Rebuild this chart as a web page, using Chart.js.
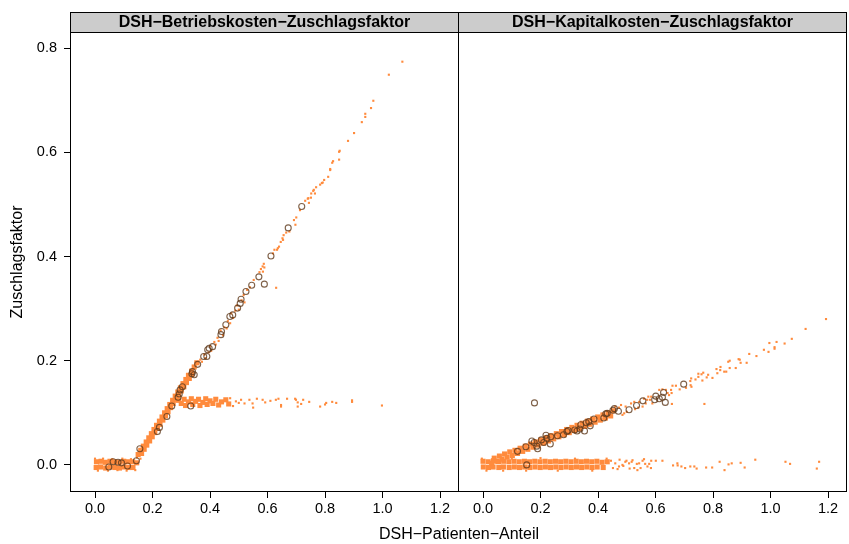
<!DOCTYPE html>
<html>
<head>
<meta charset="utf-8">
<script src="https://cdn.jsdelivr.net/npm/chart.js@4.4.1/dist/chart.umd.min.js"></script>
<style>
  body { margin: 0; background: #fff; width: 849px; height: 544px; position: relative; overflow: hidden; font-family: 'Liberation Sans', Arial, sans-serif; }
  #c1 { position: absolute; left: 0; top: 0; }
  #c2 { position: absolute; left: 458px; top: 0; }
  #xtitle { position: absolute; left: 0; top: 525px; width: 918px; text-align: center; font-size: 16px; color: #000; }
</style>
</head>
<body>
<canvas id="c1" width="459" height="544"></canvas>
<canvas id="c2" width="391" height="544"></canvas>
<div id="xtitle">DSH−Patienten−Anteil</div>
<script>
// Panel titles, ticks
const panelTitles = ['DSH−Betriebskosten−Zuschlagsfaktor', 'DSH−Kapitalkosten−Zuschlagsfaktor'];
const xTickValues = [0, 0.2, 0.4, 0.6, 0.8, 1.0, 1.2];
const yTickValues = [0, 0.2, 0.4, 0.6, 0.8];

// Betriebskosten: dichte Bereiche (grosse Quadrate)
const betriebDense = [
  [0.005,0.006],[0.004,-0.005],[0.021,0.007],[0.019,-0.004],[0.036,0.005],[0.037,-0.006],[0.052,0.007],[0.053,-0.004],
  [0.068,0.006],[0.069,-0.005],[0.084,0.005],[0.085,-0.006],[0.100,0.007],[0.101,-0.004],[0.116,0.006],[0.117,-0.005],
  [0.131,0.006],[0.132,-0.005],[0.145,0.004],
  [0.150,0.020],[0.162,0.022],[0.159,0.028],[0.171,0.030],[0.168,0.036],[0.180,0.038],[0.178,0.044],[0.190,0.046],
  [0.187,0.052],[0.199,0.054],[0.196,0.060],[0.208,0.062],[0.205,0.068],[0.217,0.070],[0.214,0.076],[0.226,0.078],
  [0.224,0.084],[0.236,0.086],[0.233,0.092],[0.245,0.094],[0.242,0.100],[0.254,0.102],[0.251,0.108],[0.263,0.110],
  [0.260,0.116],[0.272,0.118],[0.270,0.124],[0.282,0.126],[0.279,0.132],[0.291,0.134],[0.288,0.140],[0.300,0.142],
  [0.297,0.148],[0.309,0.150],[0.306,0.156],[0.318,0.158],[0.316,0.164],[0.328,0.166],[0.325,0.172],[0.337,0.174],
  [0.336,0.180],[0.345,0.188],[0.354,0.196],
  [0.290,0.124],[0.300,0.118],[0.310,0.126],[0.315,0.114],[0.325,0.121],[0.335,0.127],[0.340,0.116],[0.350,0.122],
  [0.360,0.126],[0.365,0.114],[0.375,0.120],[0.385,0.127],[0.390,0.116],[0.400,0.123],[0.410,0.118],[0.420,0.126],
  [0.430,0.115],[0.440,0.121],[0.455,0.125],[0.465,0.117]
];

// Betriebskosten: einzelne Punkte
const betriebSparse = [
  [0.000,0.012],[0.010,-0.011],[0.028,0.012],[0.045,-0.011],[0.060,0.011],[0.078,-0.010],[0.095,0.012],[0.110,-0.011],
  [0.125,0.011],[0.140,-0.010],[0.146,0.014],[0.158,0.012],
  [0.360,0.195],[0.366,0.202],[0.372,0.198],[0.380,0.212],[0.385,0.205],[0.395,0.216],[0.400,0.228],[0.404,0.219],
  [0.415,0.236],[0.420,0.231],[0.426,0.244],[0.430,0.238],[0.437,0.258],[0.445,0.249],[0.450,0.264],[0.458,0.262],
  [0.462,0.276],[0.470,0.272],[0.474,0.291],[0.480,0.282],[0.488,0.296],[0.493,0.306],[0.500,0.298],[0.510,0.316],
  [0.517,0.326],[0.520,0.312],[0.529,0.336],[0.539,0.341],[0.552,0.355],[0.572,0.370],[0.577,0.376],[0.583,0.381],
  [0.584,0.371],[0.587,0.386],[0.589,0.379],[0.619,0.406],[0.624,0.413],[0.633,0.413],[0.636,0.416],[0.640,0.419],
  [0.646,0.428],[0.652,0.435],[0.654,0.432],[0.656,0.441],[0.665,0.446],[0.676,0.448],[0.697,0.461],[0.692,0.470],
  [0.700,0.475],[0.713,0.489],[0.731,0.507],[0.744,0.503],[0.742,0.512],[0.752,0.521],[0.761,0.528],[0.769,0.533],
  [0.765,0.521],[0.759,0.526],[0.751,0.513],[0.740,0.511],[0.783,0.538],[0.789,0.541],[0.792,0.542],[0.797,0.547],
  [0.811,0.553],[0.818,0.566],[0.818,0.568],[0.825,0.580],[0.828,0.583],[0.849,0.586],[0.849,0.601],[0.851,0.603],
  [0.880,0.622],[0.901,0.637],[0.928,0.658],[0.940,0.668],[0.940,0.674],[0.960,0.685],[0.968,0.699],[1.022,0.749],
  [1.069,0.774],[0.630,0.340],
  [0.470,0.128],[0.480,0.113],[0.490,0.122],[0.500,0.119],[0.508,0.125],[0.520,0.118],[0.537,0.125],[0.548,0.118],
  [0.550,0.110],[0.563,0.127],[0.583,0.125],[0.592,0.120],[0.610,0.123],[0.629,0.125],[0.638,0.127],[0.668,0.127],
  [0.696,0.127],[0.699,0.125],[0.724,0.125],[0.647,0.115],[0.647,0.112],[0.705,0.120],[0.717,0.117],[0.705,0.112],
  [0.745,0.121],[0.783,0.112],[0.800,0.116],[0.804,0.119],[0.825,0.121],[0.839,0.119],[0.894,0.124],[0.894,0.121],
  [0.998,0.114]
];

// Betriebskosten: Kreise
const betriebCircles = [
  [0.048,-0.004],[0.063,0.006],[0.080,0.005],[0.092,0.004],[0.113,-0.002],[0.144,0.008],[0.156,0.031],[0.217,0.064],
  [0.224,0.072],[0.250,0.093],[0.267,0.113],[0.333,0.113],[0.289,0.130],[0.293,0.136],[0.296,0.144],[0.304,0.150],
  [0.337,0.175],[0.345,0.173],[0.339,0.179],[0.357,0.193],[0.378,0.208],[0.389,0.208],[0.392,0.221],[0.397,0.224],
  [0.409,0.227],[0.438,0.250],[0.440,0.256],[0.455,0.269],[0.469,0.285],[0.479,0.288],[0.496,0.301],[0.505,0.310],
  [0.508,0.318],[0.525,0.333],[0.545,0.345],[0.570,0.361],[0.589,0.347],[0.612,0.401],[0.672,0.455],[0.719,0.496]
];

// Kapitalkosten: dichte Bereiche
const kapitalDense = [
  [0.000,0.007],[0.001,-0.004],[0.018,0.006],[0.019,-0.005],[0.036,0.008],[0.035,-0.004],[0.054,0.006],[0.055,-0.005],
  [0.072,0.007],[0.071,-0.004],[0.090,0.006],[0.091,-0.005],[0.108,0.007],[0.109,-0.004],[0.126,0.006],[0.127,-0.005],
  [0.144,0.007],[0.145,-0.004],[0.162,0.006],[0.163,-0.005],[0.180,0.007],[0.181,-0.004],[0.198,0.006],[0.199,-0.005],
  [0.216,0.007],[0.217,-0.004],[0.234,0.006],[0.235,-0.005],[0.252,0.007],[0.253,-0.004],[0.270,0.006],[0.271,-0.005],
  [0.288,0.007],[0.289,-0.004],[0.306,0.006],[0.307,-0.005],[0.324,0.007],[0.325,-0.004],[0.342,0.006],[0.343,-0.005],
  [0.360,0.007],[0.361,-0.004],[0.378,0.006],[0.379,-0.005],[0.396,0.007],[0.397,-0.004],[0.414,0.005],[0.418,-0.005],
  [0.432,0.006],
  [0.030,0.003],[0.039,0.013],[0.048,0.007],[0.057,0.017],[0.066,0.011],[0.075,0.021],[0.084,0.015],[0.093,0.025],
  [0.102,0.018],[0.111,0.028],[0.120,0.022],[0.129,0.032],[0.138,0.026],[0.147,0.036],[0.156,0.030],[0.165,0.040],
  [0.174,0.034],[0.183,0.044],[0.192,0.038],[0.201,0.048],[0.210,0.042],[0.219,0.052],[0.228,0.046],[0.237,0.056],
  [0.246,0.050],[0.255,0.060],[0.264,0.054],[0.273,0.064],[0.282,0.058],[0.291,0.068],[0.300,0.062],[0.309,0.072],
  [0.318,0.066],[0.327,0.076],[0.336,0.070],[0.345,0.080],[0.354,0.074],[0.363,0.084],[0.372,0.078],[0.381,0.088],
  [0.390,0.082],[0.399,0.092],[0.408,0.086],[0.417,0.096],[0.426,0.090],[0.435,0.100],[0.444,0.094],[0.453,0.104]
];

// Kapitalkosten: einzelne Punkte
const kapitalSparse = [
  [0.473,0.110],[0.485,0.096],[0.491,0.099],[0.496,0.112],[0.526,0.121],[0.529,0.107],[0.543,0.121],[0.555,0.112],
  [0.566,0.118],[0.571,0.125],[0.581,0.125],[0.585,0.131],[0.589,0.118],[0.613,0.144],[0.624,0.145],[0.636,0.144],
  [0.642,0.138],[0.647,0.134],[0.656,0.138],[0.654,0.144],[0.657,0.117],[0.659,0.152],[0.671,0.152],[0.684,0.145],
  [0.706,0.148],[0.722,0.153],[0.725,0.150],[0.724,0.166],[0.721,0.161],[0.739,0.164],[0.749,0.175],[0.749,0.169],
  [0.760,0.174],[0.763,0.162],[0.766,0.177],[0.778,0.168],[0.783,0.173],[0.798,0.167],[0.812,0.184],[0.815,0.176],
  [0.825,0.182],[0.826,0.188],[0.839,0.179],[0.846,0.179],[0.853,0.198],[0.858,0.200],[0.858,0.186],[0.879,0.186],
  [0.889,0.203],[0.893,0.202],[0.896,0.196],[0.917,0.196],[0.926,0.213],[0.951,0.209],[0.977,0.221],[0.993,0.217],
  [0.996,0.234],[1.014,0.226],[1.014,0.223],[1.021,0.236],[1.049,0.233],[1.074,0.242],[1.122,0.261],[1.193,0.280],
  [0.770,0.117],[0.460,0.112],[0.480,0.115],[0.500,0.102],[0.515,0.118],[0.540,0.110],[0.560,0.127],[0.575,0.131],
  [0.445,0.008],[0.452,-0.006],[0.460,0.003],[0.468,-0.008],[0.475,0.010],[0.488,-0.002],[0.495,0.006],[0.510,-0.007],
  [0.520,0.009],[0.535,0.002],[0.548,-0.006],[0.560,0.011],[0.572,-0.003],[0.585,0.008],
  [0.473,-0.003],[0.485,0.000],[0.499,0.008],[0.508,0.003],[0.517,0.006],[0.526,-0.006],[0.537,-0.010],[0.543,0.003],
  [0.555,0.008],[0.564,0.002],[0.578,0.002],[0.584,-0.006],[0.601,0.008],[0.624,0.008],
  [0.661,-0.001],[0.676,0.003],[0.677,-0.001],[0.690,-0.003],[0.703,-0.006],[0.721,-0.003],[0.735,-0.003],[0.743,-0.007],
  [0.776,-0.005],[0.797,-0.005],[0.823,0.006],[0.840,-0.010],[0.854,0.001],[0.865,0.003],[0.896,0.004],[0.910,-0.005],
  [0.947,0.010],[1.052,0.006],[1.068,0.002],[1.161,-0.007],[1.169,0.006],
  [-0.004,0.012],[0.012,-0.011],[0.040,0.013],[0.070,-0.011],[0.100,0.012],[0.150,-0.011],[0.200,0.013],[0.260,-0.011],
  [0.320,0.012],[0.380,-0.011],[0.430,0.012]
];

// Kapitalkosten: Kreise
const kapitalCircles = [
  [0.152,0.000],[0.179,0.119],[0.120,0.026],[0.149,0.035],[0.170,0.046],[0.178,0.043],[0.190,0.031],[0.187,0.036],
  [0.203,0.048],[0.211,0.043],[0.219,0.057],[0.222,0.051],[0.236,0.054],[0.234,0.040],[0.259,0.056],[0.280,0.058],
  [0.292,0.064],[0.296,0.066],[0.319,0.067],[0.327,0.065],[0.337,0.069],[0.340,0.077],[0.353,0.065],[0.359,0.081],
  [0.368,0.083],[0.373,0.075],[0.386,0.088],[0.420,0.090],[0.427,0.098],[0.432,0.099],[0.452,0.105],[0.457,0.108],
  [0.471,0.103],[0.508,0.106],[0.534,0.114],[0.556,0.123],[0.597,0.125],[0.601,0.132],[0.613,0.127],[0.624,0.130],
  [0.628,0.139],[0.634,0.120],[0.698,0.155]
];

const ORANGE = '#ff8b3d';
const CIRCLE = 'rgba(95,58,28,0.8)';
const FONT = '"Liberation Sans", Arial, sans-serif';
const toXY = arr => arr.map(p => ({ x: p[0], y: p[1] }));

// Rahmen + Streifen oben
const panelPlugin = {
    id: 'panel',
    afterDraw(chart, args, opts) {
        const { ctx, chartArea: a } = chart;
        ctx.save();
        ctx.fillStyle = '#cccccc';
        ctx.fillRect(a.left, 12, a.right - a.left, 20);
        ctx.strokeStyle = '#000';
        ctx.lineWidth = 1;
        ctx.strokeRect(a.left + 0.5, 12.5, a.right - a.left - 1, 20);
        ctx.strokeRect(a.left + 0.5, a.top + 0.5, a.right - a.left - 1, a.bottom - a.top - 1);
        ctx.fillStyle = '#000';
        ctx.font = 'bold 16px ' + FONT;
        ctx.textAlign = 'center';
        ctx.textBaseline = 'middle';
        ctx.fillText(opts.title, (a.left + a.right) / 2, 23);
        ctx.restore();
    }
};

function makePanel(canvasId, title, dense, sparse, circles, showY) {
    const ctx = document.getElementById(canvasId).getContext('2d');
    return new Chart(ctx, {
        type: 'scatter',
        data: {
            datasets: [
                {
                    data: toXY(circles),
                    pointStyle: 'circle',
                    pointRadius: 3,
                    borderWidth: 1.1,
                    borderColor: CIRCLE,
                    backgroundColor: 'transparent',
                    order: 0
                },
                {
                    data: toXY(sparse),
                    pointStyle: 'rect',
                    pointRadius: 1.5,
                    borderWidth: 0,
                    backgroundColor: ORANGE,
                    order: 1
                },
                {
                    data: toXY(dense),
                    pointStyle: 'rect',
                    pointRadius: 3.6,
                    borderWidth: 0,
                    backgroundColor: ORANGE,
                    order: 2
                }
            ]
        },
        options: {
            responsive: false,
            animation: false,
            layout: { autoPadding: false, padding: { top: 32, right: showY ? 0 : 2, left: 0, bottom: 0 } },
            plugins: {
                legend: { display: false },
                tooltip: { enabled: false },
                panel: { title: title }
            },
            scales: {
                x: {
                    type: 'linear',
                    min: -0.087,
                    max: 1.266,
                    afterBuildTicks: s => { s.ticks = xTickValues.map(v => ({ value: v })); },
                    afterFit: s => { s.height = 52; s.paddingLeft = 0; s.paddingRight = 0; },
                    grid: { drawOnChartArea: false, drawTicks: true, tickLength: 6, color: '#000' },
                    border: { display: false },
                    ticks: {
                        color: '#000',
                        padding: 2,
                        maxRotation: 0,
                        font: { size: 14.5, family: FONT },
                        callback: v => v.toFixed(1)
                    }
                },
                y: {
                    type: 'linear',
                    display: showY,
                    min: -0.052,
                    max: 0.831,
                    afterBuildTicks: s => { s.ticks = yTickValues.map(v => ({ value: v })); },
                    afterFit: s => { s.width = showY ? 70 : 0; s.paddingTop = 0; s.paddingBottom = 0; },
                    grid: { drawOnChartArea: false, drawTicks: true, tickLength: 6, color: '#000' },
                    border: { display: false },
                    title: {
                        display: true,
                        text: 'Zuschlagsfaktor',
                        color: '#000',
                        padding: { top: 8, bottom: 0 },
                        font: { size: 16, family: FONT }
                    },
                    ticks: {
                        color: '#000',
                        padding: 7,
                        font: { size: 14.5, family: FONT },
                        callback: v => v.toFixed(1)
                    }
                }
            }
        },
        plugins: [panelPlugin]
    });
}

makePanel('c1', panelTitles[0], betriebDense, betriebSparse, betriebCircles, true);
makePanel('c2', panelTitles[1], kapitalDense, kapitalSparse, kapitalCircles, false);
</script>
</body>
</html>
